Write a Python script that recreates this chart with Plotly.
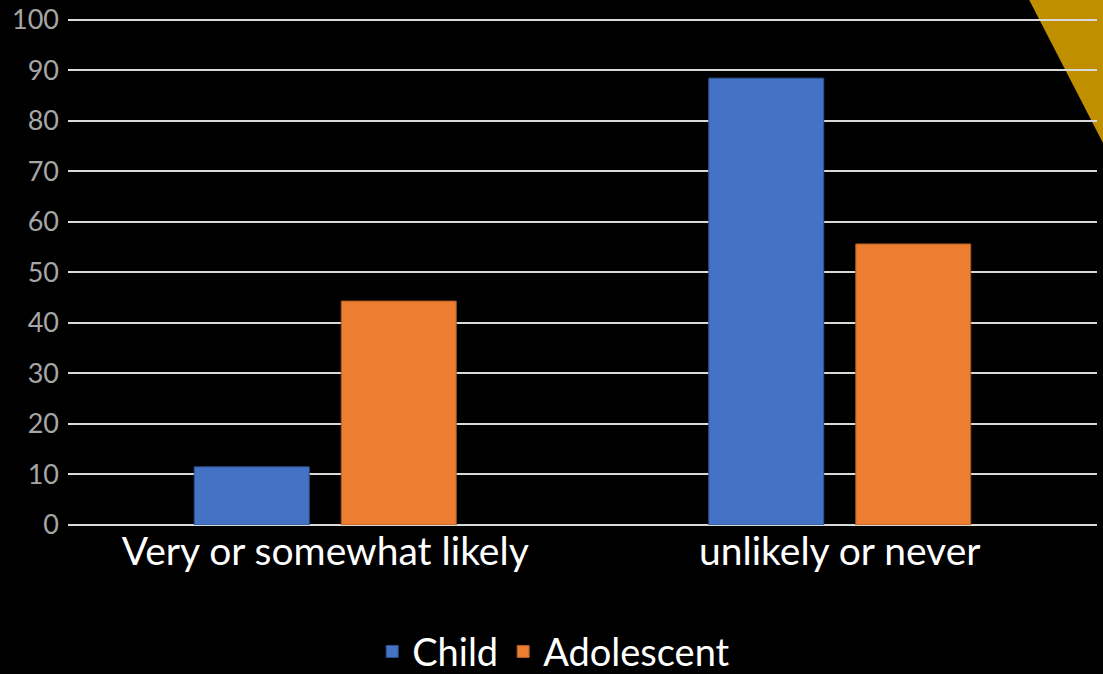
import plotly.graph_objects as go

categories = ["Very or somewhat likely", "unlikely or never"]
child = [11.5, 88.4]
adolescent = [44.3, 55.6]
y_ticks = list(range(0, 101, 10))

FONT = "Lato"

fig = go.Figure()
fig.add_trace(go.Bar(name="Child", x=categories, y=child,
                     marker=dict(color="#4472C4", line=dict(color="#2F528F", width=1))))
fig.add_trace(go.Bar(name="Adolescent", x=categories, y=adolescent,
                     marker=dict(color="#ED7D31", line=dict(color="#AE5A21", width=1))))

# decorative gold triangle top-right
fig.add_shape(type="path", xref="paper", yref="paper",
              path="M 0.933 1.04 L 1.01 1.04 L 1.01 0.737 Z",
              fillcolor="#BF8F00", line=dict(width=0), layer="below")

fig.update_layout(
    width=1103, height=674,
    paper_bgcolor="black", plot_bgcolor="rgba(0,0,0,0)",
    margin=dict(l=68, r=6, t=17.5, b=149, autoexpand=False),
    barmode="group", bargap=0.4286, bargroupgap=0.218,
    font=dict(family=FONT, color="white"),
    showlegend=True,
    legend=dict(orientation="h", x=0.472, xanchor="center", y=-0.25, yanchor="middle",
                font=dict(size=38, color="white")),
    xaxis=dict(showgrid=False, showline=False, ticks="",
               tickfont=dict(size=39, color="white")),
    yaxis=dict(range=[0, 100.3], tickvals=y_ticks, showgrid=True,
               gridcolor="#d9d9d9", gridwidth=1.5, zeroline=True,
               zerolinecolor="#d9d9d9", zerolinewidth=1.5,
               tickfont=dict(size=27, color="#a6a6a6"), ticks="",
               ticklabelstandoff=8),
)

fig.write_html("out.html", config={"displayModeBar": False},
               post_script="document.body.style.margin='0';document.body.style.background='black';")
